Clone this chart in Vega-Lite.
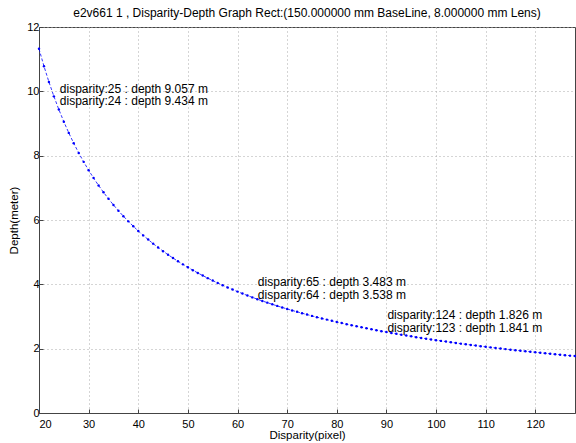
{
  "$schema": "https://vega.github.io/schema/vega-lite/v6.json",
  "width": 536,
  "height": 386,
  "autosize": {"type": "none"},
  "padding": {"left": 39, "top": 27, "right": 1, "bottom": 30},
  "background": "white",
  "title": {
    "text": "e2v661 1 , Disparity-Depth Graph Rect:(150.000000 mm BaseLine, 8.000000 mm Lens)",
    "font": "Liberation Sans",
    "fontSize": 12,
    "fontWeight": "normal",
    "color": "black",
    "anchor": "middle",
    "offset": 1
  },
  "config": {
    "view": {"stroke": "#444444", "strokeWidth": 1},
    "axis": {
      "labelFont": "Liberation Sans",
      "labelFontSize": 11,
      "labelColor": "black",
      "titleFont": "Liberation Sans",
      "titleFontSize": 11.5,
      "titleFontWeight": "normal",
      "titleColor": "black",
      "domainColor": "#444444",
      "tickColor": "#444444",
      "gridColor": "#aaaaaa",
      "gridDash": [1, 3],
      "gridWidth": 1,
      "tickSize": -4
    }
  },
  "data": {
    "values": [
      {"disparity": 20, "depth": 11.321}, {"disparity": 21, "depth": 10.782}, {"disparity": 22, "depth": 10.292},
      {"disparity": 23, "depth": 9.844}, {"disparity": 24, "depth": 9.434}, {"disparity": 25, "depth": 9.057},
      {"disparity": 26, "depth": 8.708}, {"disparity": 27, "depth": 8.386}, {"disparity": 28, "depth": 8.086},
      {"disparity": 29, "depth": 7.807}, {"disparity": 30, "depth": 7.547}, {"disparity": 31, "depth": 7.304},
      {"disparity": 32, "depth": 7.075}, {"disparity": 33, "depth": 6.861}, {"disparity": 34, "depth": 6.659},
      {"disparity": 35, "depth": 6.469}, {"disparity": 36, "depth": 6.289}, {"disparity": 37, "depth": 6.119},
      {"disparity": 38, "depth": 5.958}, {"disparity": 39, "depth": 5.806}, {"disparity": 40, "depth": 5.660},
      {"disparity": 41, "depth": 5.522}, {"disparity": 42, "depth": 5.391}, {"disparity": 43, "depth": 5.265},
      {"disparity": 44, "depth": 5.146}, {"disparity": 45, "depth": 5.031}, {"disparity": 46, "depth": 4.922},
      {"disparity": 47, "depth": 4.817}, {"disparity": 48, "depth": 4.717}, {"disparity": 49, "depth": 4.621},
      {"disparity": 50, "depth": 4.528}, {"disparity": 51, "depth": 4.440}, {"disparity": 52, "depth": 4.354},
      {"disparity": 53, "depth": 4.272}, {"disparity": 54, "depth": 4.193}, {"disparity": 55, "depth": 4.117},
      {"disparity": 56, "depth": 4.043}, {"disparity": 57, "depth": 3.972}, {"disparity": 58, "depth": 3.904},
      {"disparity": 59, "depth": 3.838}, {"disparity": 60, "depth": 3.774}, {"disparity": 61, "depth": 3.712},
      {"disparity": 62, "depth": 3.652}, {"disparity": 63, "depth": 3.594}, {"disparity": 64, "depth": 3.538},
      {"disparity": 65, "depth": 3.483}, {"disparity": 66, "depth": 3.431}, {"disparity": 67, "depth": 3.379},
      {"disparity": 68, "depth": 3.330}, {"disparity": 69, "depth": 3.281}, {"disparity": 70, "depth": 3.235},
      {"disparity": 71, "depth": 3.189}, {"disparity": 72, "depth": 3.145}, {"disparity": 73, "depth": 3.102},
      {"disparity": 74, "depth": 3.060}, {"disparity": 75, "depth": 3.019}, {"disparity": 76, "depth": 2.979},
      {"disparity": 77, "depth": 2.940}, {"disparity": 78, "depth": 2.903}, {"disparity": 79, "depth": 2.866},
      {"disparity": 80, "depth": 2.830}, {"disparity": 81, "depth": 2.795}, {"disparity": 82, "depth": 2.761},
      {"disparity": 83, "depth": 2.728}, {"disparity": 84, "depth": 2.695}, {"disparity": 85, "depth": 2.664},
      {"disparity": 86, "depth": 2.633}, {"disparity": 87, "depth": 2.602}, {"disparity": 88, "depth": 2.573},
      {"disparity": 89, "depth": 2.544}, {"disparity": 90, "depth": 2.516}, {"disparity": 91, "depth": 2.488},
      {"disparity": 92, "depth": 2.461}, {"disparity": 93, "depth": 2.435}, {"disparity": 94, "depth": 2.409},
      {"disparity": 95, "depth": 2.383}, {"disparity": 96, "depth": 2.358}, {"disparity": 97, "depth": 2.334},
      {"disparity": 98, "depth": 2.310}, {"disparity": 99, "depth": 2.287}, {"disparity": 100, "depth": 2.264},
      {"disparity": 101, "depth": 2.242}, {"disparity": 102, "depth": 2.220}, {"disparity": 103, "depth": 2.198},
      {"disparity": 104, "depth": 2.177}, {"disparity": 105, "depth": 2.156}, {"disparity": 106, "depth": 2.136},
      {"disparity": 107, "depth": 2.116}, {"disparity": 108, "depth": 2.096}, {"disparity": 109, "depth": 2.077},
      {"disparity": 110, "depth": 2.058}, {"disparity": 111, "depth": 2.040}, {"disparity": 112, "depth": 2.022},
      {"disparity": 113, "depth": 2.004}, {"disparity": 114, "depth": 1.986}, {"disparity": 115, "depth": 1.969},
      {"disparity": 116, "depth": 1.952}, {"disparity": 117, "depth": 1.935}, {"disparity": 118, "depth": 1.919},
      {"disparity": 119, "depth": 1.903}, {"disparity": 120, "depth": 1.887}, {"disparity": 121, "depth": 1.871},
      {"disparity": 122, "depth": 1.856}, {"disparity": 123, "depth": 1.841}, {"disparity": 124, "depth": 1.826},
      {"disparity": 125, "depth": 1.811}, {"disparity": 126, "depth": 1.797}, {"disparity": 127, "depth": 1.783},
      {"disparity": 128, "depth": 1.769}
    ]
  },
  "encoding": {
    "x": {
      "field": "disparity",
      "type": "quantitative",
      "scale": {"domain": [20, 128], "nice": false, "zero": false},
      "axis": {
        "title": "Disparity(pixel)",
        "values": [20, 30, 40, 50, 60, 70, 80, 90, 100, 110, 120],
        "grid": true,
        "labelPadding": 9,
        "titlePadding": 0
      }
    },
    "y": {
      "field": "depth",
      "type": "quantitative",
      "scale": {"domain": [0, 12], "nice": false},
      "axis": {
        "title": "Depth(meter)",
        "values": [0, 2, 4, 6, 8, 10, 12],
        "grid": true,
        "labelPadding": 4,
        "titlePadding": 7
      }
    }
  },
  "layer": [
    {
      "mark": {"type": "line", "color": "#0000ff", "strokeWidth": 0.8, "strokeDash": [3, 2]}
    },
    {
      "mark": {"type": "point", "filled": true, "size": 6, "color": "#0000ff", "opacity": 1}
    },
    {
      "data": {
        "values": [
          {"tx": 24.2, "ty": 10.08, "label": "disparity:25 : depth 9.057 m"},
          {"tx": 24.2, "ty": 9.69, "label": "disparity:24 : depth 9.434 m"},
          {"tx": 64.1, "ty": 4.08, "label": "disparity:65 : depth 3.483 m"},
          {"tx": 64.1, "ty": 3.68, "label": "disparity:64 : depth 3.538 m"},
          {"tx": 90.2, "ty": 3.06, "label": "disparity:124 : depth 1.826 m"},
          {"tx": 90.2, "ty": 2.65, "label": "disparity:123 : depth 1.841 m"}
        ]
      },
      "mark": {"type": "text", "align": "left", "baseline": "middle", "font": "Liberation Sans", "fontSize": 12, "color": "black"},
      "encoding": {
        "x": {"field": "tx", "type": "quantitative"},
        "y": {"field": "ty", "type": "quantitative"},
        "text": {"field": "label"}
      }
    }
  ]
}
